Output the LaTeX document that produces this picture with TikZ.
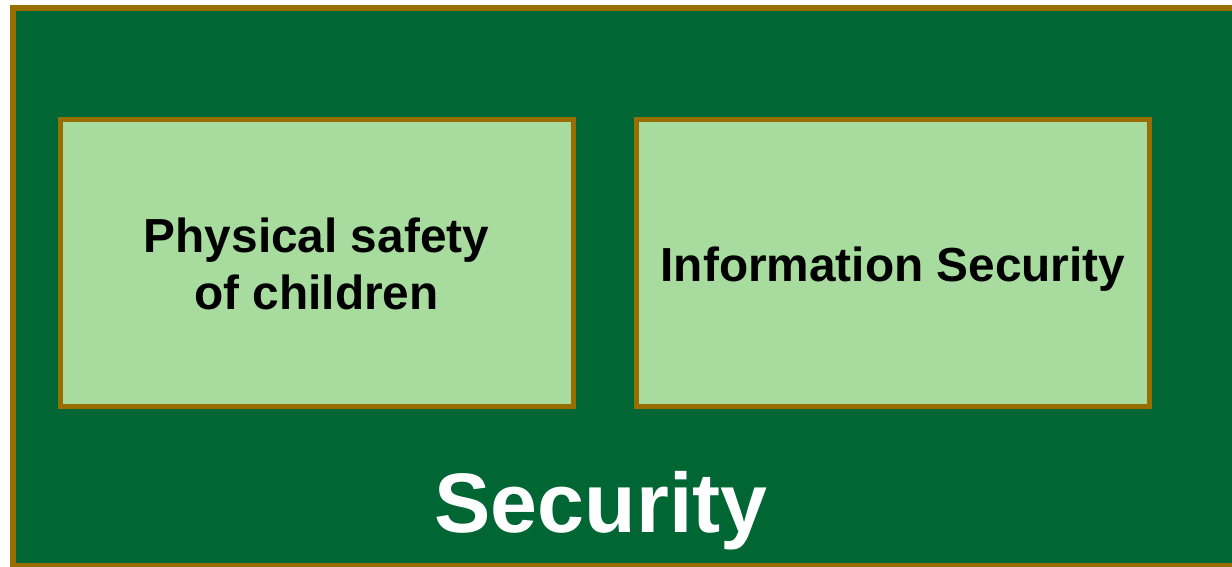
\documentclass[tikz,border=0pt]{standalone}
\usepackage{fontspec}
\setmainfont{Liberation Sans}
\definecolor{darkgr}{RGB}{0,102,51}
\definecolor{lightgr}{RGB}{168,220,158}
\definecolor{olive}{RGB}{153,110,0}
\begin{document}
\begin{tikzpicture}[x=1pt,y=1pt,
  box/.style={draw=olive,line width=5pt,fill=lightgr,minimum width=513pt,minimum height=287pt,
    align=center,font=\bfseries\fontsize{47.8}{57}\selectfont,text=black,inner sep=0pt}]
\useasboundingbox (0,0) rectangle (1232,567);
\begin{scope}
\clip (0,0) rectangle (1232,567);
\draw[draw=olive,line width=5.5pt,fill=darkgr] (13,559) rectangle (1245,1);
\end{scope}
\node[box] (phys) at (316.5,303.5) {Physical safety\\of children};
\node[box] (info) at (893,303.5) {\raisebox{-6pt}[\height][\depth]{Information Security}};
\node[anchor=base,text=white,font=\bfseries\fontsize{84.4}{100}\selectfont,inner sep=0pt] (sec) at (601,34) {Security};
\end{tikzpicture}
\end{document}
